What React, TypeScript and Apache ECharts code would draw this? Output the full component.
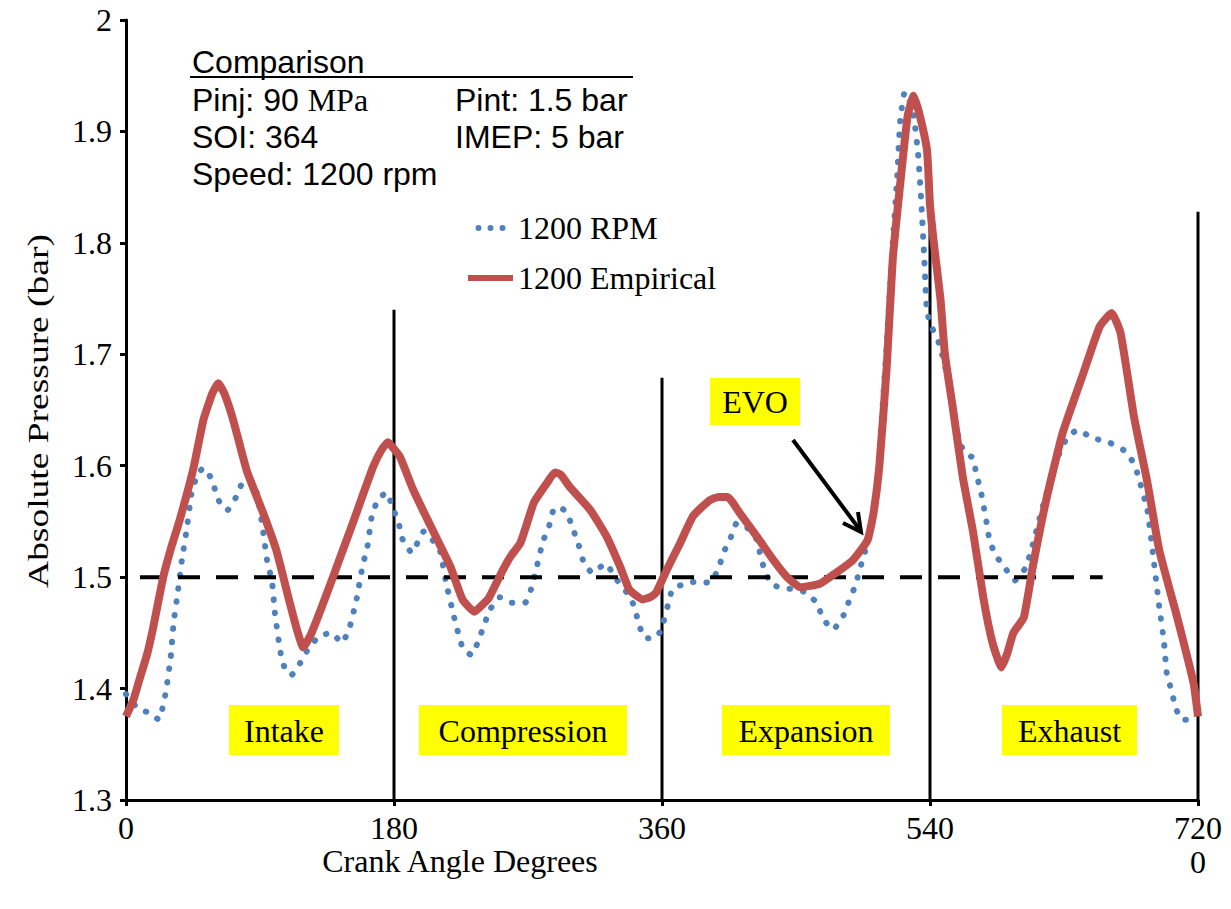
import { useEffect, useRef } from 'react';
import * as echarts from 'echarts';

const SERIF = '"Liberation Serif", "Times New Roman", serif';
const SANS = '"Liberation Sans", Arial, sans-serif';

// 1200 RPM (model) – blue dotted
const rpmAngle = [0, 3, 8, 14, 19, 22, 25, 27, 30, 32, 35, 37.5, 41, 44, 48, 52, 58, 61, 65, 68, 74, 79, 86, 90, 92, 95, 98, 100, 103, 105, 108, 111, 117, 123, 130, 138, 145, 150, 155, 159, 162, 165, 169, 175, 179, 183, 186, 192, 200, 206, 211, 215, 220, 226, 232, 237, 241, 245, 251, 259, 268, 272, 275, 280, 284, 287, 291, 296, 300, 304, 307, 313, 322, 330, 337, 342, 344, 349, 357, 361, 364, 367, 375, 383, 392, 398, 401, 406, 410, 416, 424, 426, 429, 434, 444, 455, 464, 468, 475, 482, 486, 490, 493, 496, 500, 504, 508, 511, 515, 518, 520, 523, 526, 529, 532, 534, 536, 538, 541, 546, 550, 555, 560, 565, 569, 571, 574, 578, 580, 584, 590, 597, 604, 608, 615, 625, 632, 639, 649, 660, 670, 677, 680, 686, 690, 694, 697, 699, 702, 705, 709, 714];
const rpmPressure = [1.395, 1.39, 1.382, 1.379, 1.375, 1.372, 1.385, 1.399, 1.428, 1.459, 1.489, 1.515, 1.545, 1.575, 1.592, 1.598, 1.587, 1.572, 1.563, 1.56, 1.572, 1.586, 1.585, 1.56, 1.542, 1.513, 1.497, 1.468, 1.439, 1.424, 1.415, 1.412, 1.423, 1.437, 1.447, 1.45, 1.441, 1.454, 1.481, 1.511, 1.526, 1.554, 1.569, 1.576, 1.563, 1.549, 1.533, 1.522, 1.541, 1.533, 1.523, 1.495, 1.466, 1.437, 1.43, 1.444, 1.459, 1.472, 1.482, 1.477, 1.477, 1.489, 1.504, 1.532, 1.545, 1.56, 1.563, 1.558, 1.544, 1.529, 1.515, 1.504, 1.512, 1.497, 1.485, 1.472, 1.459, 1.445, 1.447, 1.46, 1.475, 1.489, 1.494, 1.496, 1.495, 1.508, 1.521, 1.535, 1.548, 1.546, 1.533, 1.52, 1.506, 1.493, 1.49, 1.487, 1.477, 1.463, 1.453, 1.466, 1.48, 1.493, 1.508, 1.521, 1.545, 1.575, 1.65, 1.71, 1.8, 1.86, 1.91, 1.935, 1.928, 1.914, 1.88, 1.84, 1.79, 1.738, 1.725, 1.71, 1.69, 1.655, 1.62, 1.61, 1.607, 1.593, 1.578, 1.549, 1.533, 1.52, 1.509, 1.497, 1.508, 1.524, 1.56, 1.605, 1.625, 1.632, 1.625, 1.621, 1.614, 1.602, 1.59, 1.56, 1.518, 1.473, 1.444, 1.414, 1.399, 1.383, 1.372, 1.372];

// 1200 Empirical – red solid
const empAngle = [0, 5, 9, 14, 18, 25, 30, 36, 45, 52, 58, 62, 66, 72, 81, 92, 101, 110, 115, 119, 124, 130, 139, 153, 166, 172, 176, 180, 184, 193, 206, 218, 226, 234, 240, 244, 253, 258, 265, 274, 283, 288, 292, 298, 312, 323, 332, 338, 347, 352, 356, 363, 372, 381, 392, 398, 404, 412, 424, 435, 444, 453, 466, 477, 488, 498, 502, 506, 511, 515, 521, 525, 529, 533, 538, 540, 543, 547, 550, 555, 562, 569, 576, 582, 588, 592, 596, 603, 609, 618, 629, 643, 654, 662, 668, 677, 686, 694, 706, 717, 720];
const empPressure = [1.375, 1.39, 1.408, 1.43, 1.453, 1.5, 1.525, 1.551, 1.596, 1.641, 1.665, 1.674, 1.665, 1.641, 1.596, 1.558, 1.524, 1.477, 1.452, 1.437, 1.448, 1.468, 1.5, 1.551, 1.599, 1.615, 1.621, 1.615, 1.608, 1.578, 1.542, 1.509, 1.48, 1.469, 1.476, 1.482, 1.506, 1.518, 1.531, 1.567, 1.585, 1.594, 1.592, 1.581, 1.56, 1.536, 1.509, 1.489, 1.48, 1.482, 1.486, 1.506, 1.53, 1.555, 1.569, 1.572, 1.572, 1.558, 1.536, 1.515, 1.5, 1.491, 1.494, 1.504, 1.515, 1.533, 1.557, 1.6, 1.69, 1.786, 1.866, 1.914, 1.932, 1.915, 1.883, 1.834, 1.795, 1.75, 1.7, 1.655, 1.59, 1.54, 1.48, 1.441, 1.419, 1.432, 1.45, 1.464, 1.509, 1.569, 1.629, 1.683, 1.725, 1.737, 1.719, 1.644, 1.585, 1.524, 1.464, 1.405, 1.375];

// reference line (1.5 bar) and stroke boundaries
const refAngle = [0, 656];
const refPressure = [1.5, 1.5];
const phaseAngles = [180, 360, 540, 720];
const phaseTops = [1.74, 1.679, 1.834, 1.828];
const phaseLabels = ['Intake', 'Compression', 'Expansion', 'Exhaust'];

const seriesNames = ['1200 RPM', '1200 Empirical'];

const DOTS_ICON =
  'path://M0,3A3,3,0,1,0,6,3A3,3,0,1,0,0,3Z M12,3A3,3,0,1,0,18,3A3,3,0,1,0,12,3Z M24,3A3,3,0,1,0,30,3A3,3,0,1,0,24,3Z';

function pairs(xs: number[], ys: number[]) {
  return xs.map((x, i) => [x, ys[i]]);
}

export default function App() {
  const ref = useRef<HTMLDivElement>(null);
  useEffect(() => {
    document.body.style.margin = '0';
    const chart = echarts.init(ref.current!, null, { renderer: 'svg' });

    const boxes = [
      { x0: 229, x1: 339 },
      { x0: 419, x1: 627 },
      { x0: 722, x1: 890 },
      { x0: 1002, x1: 1137 },
    ];
    const phaseGraphics: any[] = [];
    phaseLabels.forEach((label, i) => {
      const b = boxes[i];
      phaseGraphics.push({
        type: 'rect',
        shape: { x: b.x0, y: 705, width: b.x1 - b.x0, height: 50 },
        style: { fill: '#FFFF00' },
        z: 10,
      });
      phaseGraphics.push({
        type: 'text',
        x: (b.x0 + b.x1) / 2,
        y: 731,
        style: { text: label, fontFamily: SERIF, fontSize: 32, fill: '#000', align: 'center', verticalAlign: 'middle' },
        z: 11,
      });
    });

    const sansText = (text: string, x: number, y: number) => ({
      type: 'text',
      x,
      y,
      style: { text, fontFamily: SANS, fontSize: 32, fill: '#000', align: 'left', verticalAlign: 'middle' },
      z: 10,
    });

    const option: any = {
      animation: false,
      backgroundColor: '#ffffff',
      grid: { left: 126, right: 33, top: 20, bottom: 109, containLabel: false },
      legend: {
        data: [
          { name: seriesNames[0], icon: DOTS_ICON },
          { name: seriesNames[1], icon: 'rect' },
        ],
        orient: 'vertical',
        left: 463,
        top: 207,
        padding: 5,
        itemWidth: 45,
        itemHeight: 6,
        itemGap: 18,
        symbolKeepAspect: true,
        textStyle: { fontFamily: SERIF, fontSize: 32, color: '#000', lineHeight: 32 },
      },
      xAxis: {
        type: 'value',
        min: 0,
        max: 720,
        interval: 180,
        axisLine: { show: true, lineStyle: { color: '#000', width: 3 } },
        axisTick: { show: true, length: 6, lineStyle: { color: '#000', width: 3 } },
        axisLabel: {
          fontFamily: SERIF,
          fontSize: 32,
          color: '#000',
          margin: 12,
          formatter: (v: number) => String(v),
        },
        splitLine: { show: false },
      },
      yAxis: {
        type: 'value',
        min: 1.3,
        max: 2,
        interval: 0.1,
        axisLine: { show: true, lineStyle: { color: '#000', width: 3 } },
        axisTick: { show: true, length: 6, lineStyle: { color: '#000', width: 3 } },
        axisLabel: {
          fontFamily: SERIF,
          fontSize: 32,
          color: '#000',
          margin: 14,
          formatter: (v: number) => String(parseFloat(v.toFixed(1))),
        },
        splitLine: { show: false },
      },
      series: [
        ...phaseAngles.map((a, i) => ({
          type: 'line',
          name: 'phase' + i,
          data: [[a, 1.3], [a, phaseTops[i]]],
          symbol: 'none',
          silent: true,
          clip: false,
          lineStyle: { color: '#000', width: 3 },
          z: 1,
        })),
        {
          type: 'line',
          name: 'ref',
          data: pairs(refAngle, refPressure),
          symbol: 'none',
          silent: true,
          lineStyle: { color: '#000', width: 4, type: [22, 16], dashOffset: 24 },
          z: 3,
        },
        {
          type: 'line',
          name: seriesNames[0],
          data: pairs(rpmAngle, rpmPressure),
          symbol: 'none',
          smooth: 0.15,
          lineStyle: { color: '#4F81BD', width: 6, type: [0.5, 13], cap: 'round' },
          itemStyle: { color: '#4F81BD' },
          z: 2,
        },
        {
          type: 'line',
          name: seriesNames[1],
          data: pairs(empAngle, empPressure),
          symbol: 'none',
          smooth: 0.15,
          lineStyle: { color: '#C0504D', width: 8, join: 'round' },
          itemStyle: { color: '#C0504D' },
          z: 4,
        },
      ],
      graphic: [
        {
          type: 'text',
          x: 38,
          y: 411,
          rotation: Math.PI / 2,
          scaleX: 1.25,
          style: { text: 'Absolute Pressure (bar)', fontFamily: SERIF, fontSize: 30, fill: '#000', align: 'center', verticalAlign: 'middle' },
        },
        {
          type: 'text',
          x: 460,
          y: 861,
          style: { text: 'Crank Angle Degrees', fontFamily: SERIF, fontSize: 32, fill: '#000', align: 'center', verticalAlign: 'middle' },
        },
        {
          type: 'text',
          x: 1198,
          y: 862,
          style: { text: '0', fontFamily: SERIF, fontSize: 32, fill: '#000', align: 'center', verticalAlign: 'middle' },
        },
        sansText('Comparison', 192, 62),
        { type: 'line', shape: { x1: 190, y1: 77, x2: 633, y2: 77 }, style: { stroke: '#000', lineWidth: 2 }, z: 10 },
        {
          type: 'text',
          x: 192,
          y: 100,
          style: {
            text: '{a|Pinj: 90 }{b|MPa}',
            verticalAlign: 'middle',
            rich: {
              a: { fontFamily: SANS, fontSize: 32, fill: '#000' },
              b: { fontFamily: SERIF, fontSize: 32, fill: '#000' },
            },
          },
          z: 10,
        },
        sansText('Pint: 1.5 bar', 455, 100),
        sansText('SOI: 364', 192, 137),
        sansText('IMEP: 5 bar', 455, 137),
        sansText('Speed: 1200 rpm', 192, 174),
        ...phaseGraphics,
        { type: 'rect', shape: { x: 710, y: 378, width: 90, height: 47 }, style: { fill: '#FFFF00' }, z: 10 },
        {
          type: 'text',
          x: 755,
          y: 402,
          style: { text: 'EVO', fontFamily: SERIF, fontSize: 32, fill: '#000', align: 'center', verticalAlign: 'middle' },
          z: 11,
        },
        { type: 'line', shape: { x1: 793, y1: 440, x2: 860, y2: 530 }, style: { stroke: '#000', lineWidth: 4 }, z: 12 },
        { type: 'polyline', shape: { points: [[858, 512], [861, 532], [843, 523]] }, style: { stroke: '#000', lineWidth: 4, fill: null }, z: 12 },
      ],
    };

    chart.setOption(option);
    return () => chart.dispose();
  }, []);
  return <div ref={ref} style={{ width: 1231, height: 909, background: '#fff' }} />;
}
